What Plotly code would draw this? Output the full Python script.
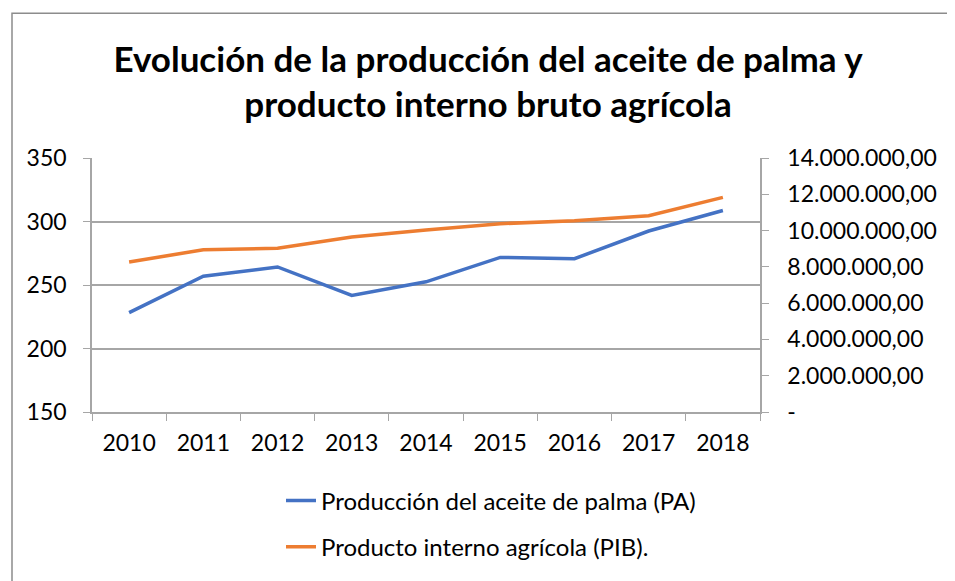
import plotly.graph_objects as go

years = ["2010", "2011", "2012", "2013", "2014", "2015", "2016", "2017", "2018"]
pa_values = [228.3, 256.9, 264.2, 241.8, 252.5, 271.7, 270.7, 292.5, 308.7]
pib_values = [8270000, 8940000, 9020000, 9640000, 10030000, 10380000, 10540000, 10820000, 11830000]
left_ticks = [150, 200, 250, 300, 350]
right_tickvals = [0, 2000000, 4000000, 6000000, 8000000, 10000000, 12000000, 14000000]
right_ticktext = ["-", "2.000.000,00", "4.000.000,00", "6.000.000,00", "8.000.000,00",
                  "10.000.000,00", "12.000.000,00", "14.000.000,00"]

FONT = "Lato"
GRID = "#a6a6a6"
OFF = 8  # default body margin of the page

W, H = 955 - OFF, 581 - OFF
L, T = 92 - OFF, 158 - OFF
R, B = 955 - 760, 581 - 414
pw = W - L - R
ph = H - T - B

fig = go.Figure()
fig.add_trace(go.Scatter(x=years, y=pa_values, mode="lines", name="Producción del aceite de palma (PA)",
                         line=dict(color="#4472C4", width=3.5), legendgroup="a"))
fig.add_trace(go.Scatter(x=years, y=pib_values, mode="lines", name="Producto interno agrícola (PIB).",
                         line=dict(color="#ED7D31", width=3.5), yaxis="y2", legendgroup="b"))

fig.update_layout(
    width=W, height=H,
    margin=dict(l=L, r=R, t=T, b=B),
    paper_bgcolor="white", plot_bgcolor="white",
    font=dict(family=FONT, size=23, color="#000000"),
    title=dict(text="<b>Evolución de la producción del aceite de palma y<br>producto interno bruto agrícola</b>",
               x=(488 - 92) / pw, xref="paper", xanchor="center",
               y=(H - (80.5 - OFF - 9)) / H, yanchor="middle",
               font=dict(family=FONT, size=35, color="#000000")),
    xaxis=dict(type="category", range=[-0.5, 8.5], showgrid=False,
               showline=True, linecolor=GRID, linewidth=1.5,
               ticks="outside", ticklen=7, tickcolor=GRID, tickson="boundaries",
               ticklabelstandoff=10,
               tickfont=dict(size=23, family=FONT), fixedrange=True),
    yaxis=dict(range=[150, 350], tickvals=left_ticks, showgrid=True, gridcolor=GRID, gridwidth=1.5,
               showline=True, linecolor=GRID, linewidth=1.5, zeroline=False,
               ticks="outside", ticklen=7, tickcolor=GRID, ticklabelstandoff=12,
               tickfont=dict(size=23, family=FONT)),
    yaxis2=dict(range=[0, 14000000], overlaying="y", side="right",
                tickvals=right_tickvals, ticktext=right_ticktext, showgrid=False,
                showline=True, linecolor=GRID, linewidth=1.5, zeroline=False,
                ticks="outside", ticklen=7, tickcolor=GRID, ticklabelstandoff=14,
                tickfont=dict(size=23, family=FONT)),
    legend=dict(x=(281 - 92) / pw, xanchor="left", y=-(481 - OFF - T - ph) / ph, yanchor="top",
                orientation="v", tracegroupgap=12, font=dict(size=24, family=FONT),
                bgcolor="rgba(0,0,0,0)"),
    showlegend=True,
)

# outer chart border
fig.add_shape(type="rect", xref="paper", yref="paper",
              x0=(12 - 92) / pw, x1=1.5, y0=-1.0, y1=(T + ph - (12 - OFF)) / ph,
              line=dict(color="#8c8c8c", width=1.5), fillcolor="rgba(0,0,0,0)", layer="below")

fig.write_html("out.html")
